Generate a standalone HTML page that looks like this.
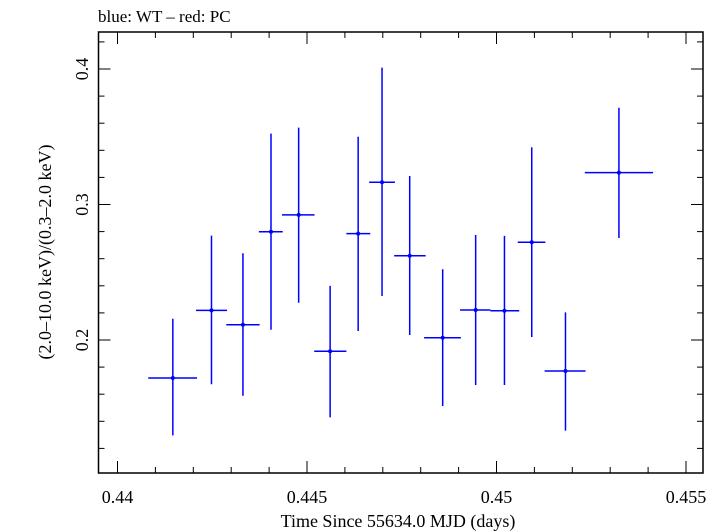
<!DOCTYPE html>
<html><head><meta charset="utf-8"><style>
html,body{margin:0;padding:0;background:#fff}
svg{display:block}
text{font-family:"Liberation Serif",serif;fill:#000}
</style></head><body>
<svg id="chart" width="723" height="532" xmlns="http://www.w3.org/2000/svg">
<text x="98" y="22" font-size="17">blue: WT – red: PC</text>
<rect x="98.5" y="32" width="604.5" height="441" fill="none" stroke="#000" stroke-width="1.5"/>
<g id="axes"></g>
<g id="marks"></g>
<text x="398" y="527" font-size="18" text-anchor="middle">Time Since 55634.0 MJD (days)</text>
<text transform="translate(51,252) rotate(-90)" font-size="18" text-anchor="middle">(2.0–10.0 keV)/(0.3–2.0 keV)</text>
</svg>
<script>
const xCenters=[0.44146,0.44248,0.44331,0.44405,0.44478,0.44561,0.44635,0.44698,0.44771,0.44858,0.44945,0.45021,0.45093,0.45182,0.45323];
const xLo=[0.44081,0.44207,0.44287,0.44373,0.44434,0.44519,0.44604,0.44664,0.44730,0.44809,0.44904,0.44984,0.45056,0.45127,0.45233];
const xHi=[0.44210,0.44289,0.44375,0.44436,0.44520,0.44604,0.44667,0.44732,0.44813,0.44906,0.44984,0.45060,0.45129,0.45235,0.45413];
const yValues=[0.1720,0.2219,0.2113,0.2799,0.2923,0.1917,0.2785,0.3164,0.2622,0.2017,0.2221,0.2216,0.2721,0.1771,0.3235];
const yHi=[0.2157,0.2770,0.2640,0.3523,0.3567,0.2399,0.3500,0.4010,0.3210,0.2522,0.2775,0.2768,0.3422,0.2204,0.3714];
const yLo=[0.1296,0.1673,0.1589,0.2076,0.2275,0.1429,0.2066,0.2325,0.2037,0.1513,0.1668,0.1668,0.2022,0.1331,0.2753];
const xTickLabels=["0.44","0.445","0.45","0.455"];
const yTickLabels=["0.2","0.3","0.4"];
const NS="http://www.w3.org/2000/svg";
function X(v){return 117.5+(v-0.44)/0.005*189.5;}
function Y(v){return 340-(v-0.2)/0.1*135.5;}
const axes=document.getElementById('axes'), marks=document.getElementById('marks');
function line(p,x1,y1,x2,y2,c,w,name){const l=document.createElementNS(NS,'line');
l.setAttribute('x1',x1);l.setAttribute('y1',y1);l.setAttribute('x2',x2);l.setAttribute('y2',y2);
l.setAttribute('stroke',c);l.setAttribute('stroke-width',w);


p.appendChild(l);}
const L=98.5,R=703,T=32,B=473;
for(let i=0;i<=16;i++){const v=0.44+i*0.001;const x=X(v);if(x<L||x>R)continue;const maj=i%5===0;const len=maj?12:6;
line(axes,x,B,x,B-len,'#000',1,'x-tick');line(axes,x,T,x,T+len,'#000',1,'x-tick-top');}
for(let i=0;i<=20;i++){const v=0.1+i*0.02;const y=Y(v);if(y<T||y>B)continue;const maj=i%5===0;const len=maj?12:6;
line(axes,L,y,L+len,y,'#000',1,'y-tick');line(axes,R,y,R-len,y,'#000',1,'y-tick-right');}
xTickLabels.forEach(s=>{const t=document.createElementNS(NS,'text');t.setAttribute('x',X(parseFloat(s)));t.setAttribute('y',503);
t.setAttribute('font-size','18');t.setAttribute('text-anchor','middle');t.textContent=s;


axes.appendChild(t);});
yTickLabels.forEach(s=>{const y=Y(parseFloat(s));const t=document.createElementNS(NS,'text');
t.setAttribute('transform','translate(88,'+y+') rotate(-90)');t.setAttribute('font-size','18');t.setAttribute('text-anchor','middle');t.textContent=s;


axes.appendChild(t);});
const C='#0000ff';
for(let i=0;i<xCenters.length;i++){
line(marks,X(xLo[i]),Y(yValues[i]),X(xHi[i]),Y(yValues[i]),C,1.5,'x-error-bar');
line(marks,X(xCenters[i]),Y(yHi[i]),X(xCenters[i]),Y(yLo[i]),C,1.5,'y-error-bar');
const c=document.createElementNS(NS,'circle');c.setAttribute('cx',X(xCenters[i]));c.setAttribute('cy',Y(yValues[i]));c.setAttribute('r',2);c.setAttribute('fill',C);


marks.appendChild(c);}
</script>
</body></html>
